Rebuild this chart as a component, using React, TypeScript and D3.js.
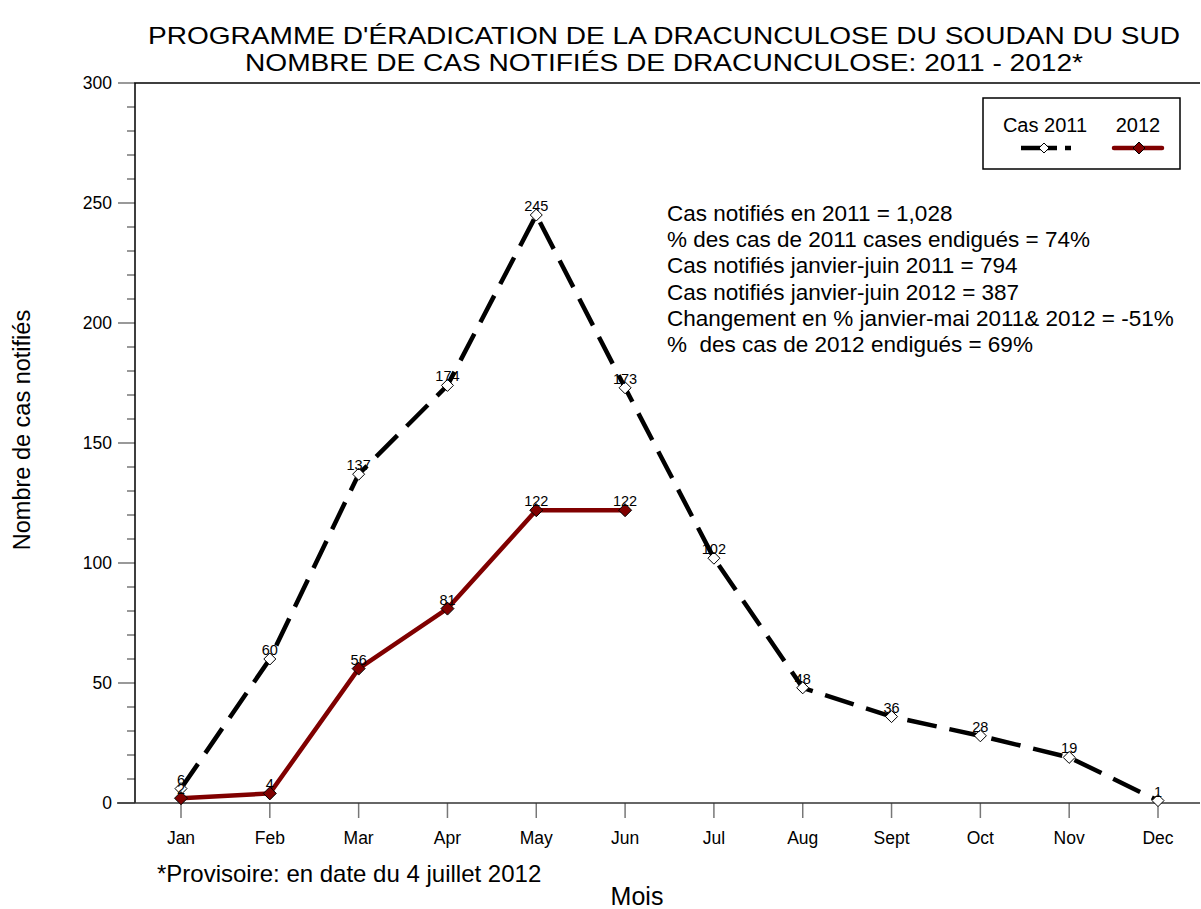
import React from 'react';
import * as d3 from 'd3';

const months = ['Jan', 'Feb', 'Mar', 'Apr', 'May', 'Jun', 'Jul', 'Aug', 'Sept', 'Oct', 'Nov', 'Dec'];
const cases2011 = [6, 60, 137, 174, 245, 173, 102, 48, 36, 28, 19, 1];
const cases2012 = [2, 4, 56, 81, 122, 122];
const yTicks = [0, 50, 100, 150, 200, 250, 300];
const titleLines = [
  "PROGRAMME D'ÉRADICATION DE LA DRACUNCULOSE DU SOUDAN DU SUD",
  'NOMBRE DE CAS NOTIFIÉS DE DRACUNCULOSE: 2011 - 2012*',
];
const notes = [
  'Cas notifiés en 2011 = 1,028',
  '% des cas de 2011 cases endigués = 74%',
  'Cas notifiés janvier-juin 2011 = 794',
  'Cas notifiés janvier-juin 2012 = 387',
  'Changement en % janvier-mai 2011& 2012 = -51%',
  '%  des cas de 2012 endigués = 69%',
];

const W = 1201;
const H = 909;
const left = 135;
const right = 1200;
const top = 83;
const bottom = 803;
const font = 'Liberation Sans, Arial, sans-serif';
const red = '#800000';

const diamond = (cx: number, cy: number, r: number) =>
  `M${cx},${cy - r}L${cx + r},${cy}L${cx},${cy + r}L${cx - r},${cy}Z`;

export default function App() {
  const x = d3.scalePoint<string>().domain(months).range([181, 1158]);
  const y = d3.scaleLinear().domain([0, 300]).range([bottom, top]);
  const minor = d3.range(0, 301, 10).filter((v) => v % 50 !== 0);

  const line = d3
    .line<number>()
    .x((_, i) => x(months[i])!)
    .y((d) => y(d));

  const titleWidths = [1032, 838];

  return (
    <svg width={W} height={H} style={{ position: 'absolute', left: 0, top: 0 }} fontFamily={font}>
      <rect width={W} height={H} fill="#fff" />
      {titleLines.map((t, i) => (
        <text
          key={i}
          textAnchor="middle"
          fontSize={24}
          x={664}
          y={44 + i * 27}
          textLength={titleWidths[i]}
          lengthAdjust="spacingAndGlyphs"
        >
          {t}
        </text>
      ))}

      {/* y axis ticks */}
      {yTicks.map((t) => (
        <g key={t}>
          <line x1={118} x2={left} y1={y(t)} y2={y(t)} stroke="#777" strokeWidth={1.5} />
          <text x={112} y={y(t) + 6} textAnchor="end" fontSize={17.5}>
            {t}
          </text>
        </g>
      ))}
      {minor.map((t) => (
        <line key={t} x1={127} x2={left} y1={y(t)} y2={y(t)} stroke="#555" strokeWidth={1.2} />
      ))}

      {/* x axis ticks */}
      {months.map((m) => (
        <g key={m}>
          <line x1={x(m)} x2={x(m)} y1={bottom} y2={818} stroke="#777" strokeWidth={1.5} />
          <text x={x(m)} y={844} textAnchor="middle" fontSize={17.5}>
            {m}
          </text>
        </g>
      ))}

      {/* frame */}
      <path
        d={`M${left},${bottom}L${left},${top}L${right},${top}`}
        fill="none"
        stroke="#000"
        strokeWidth={1.5}
      />
      <line x1={left - 18} x2={right} y1={bottom} y2={bottom} stroke="#333" strokeWidth={1.5} />

      {/* 2011 series */}
      <path
        d={line(cases2011)!}
        fill="none"
        stroke="#000"
        strokeWidth={4.5}
        strokeDasharray="30 13"
      />
      {cases2011.map((v, i) => (
        <g key={i}>
          <path d={diamond(x(months[i])!, y(v), 6)} fill="#fff" stroke="#000" strokeWidth={1} />
          <text x={x(months[i])!} y={y(v) - 4} textAnchor="middle" fontSize={14.5}>
            {v}
          </text>
        </g>
      ))}

      {/* 2012 series */}
      <path d={line(cases2012)!} fill="none" stroke={red} strokeWidth={4.5} />
      {cases2012.map((v, i) => (
        <g key={i}>
          <path d={diamond(x(months[i])!, y(v), 6.5)} fill={red} stroke="#000" strokeWidth={1} />
          <text x={x(months[i])!} y={y(v) - 4} textAnchor="middle" fontSize={14.5}>
            {v}
          </text>
        </g>
      ))}

      {/* notes */}
      {notes.map((n, i) => (
        <text key={i} x={667} y={221 + i * 26.2} fontSize={22.5} style={{ whiteSpace: 'pre' }}>
          {n}
        </text>
      ))}

      {/* legend */}
      <rect x={983} y={98} width={197} height={71} fill="#fff" stroke="#000" strokeWidth={1.5} />
      <text x={1045} y={132} textAnchor="middle" fontSize={20}>
        Cas 2011
      </text>
      <text x={1138} y={132} textAnchor="middle" fontSize={20}>
        2012
      </text>
      <path
        d="M1021,148L1057,148M1065,148L1071,148"
        stroke="#000"
        strokeWidth={4.5}
        fill="none"
      />
      <path d={diamond(1044, 148, 5)} fill="#fff" stroke="#000" strokeWidth={1} />
      <line x1={1114} x2={1162} y1={148} y2={148} stroke={red} strokeWidth={4.5} strokeLinecap="round" />
      <path d={diamond(1139, 148, 6)} fill={red} stroke="#000" strokeWidth={1} />

      {/* axis titles */}
      <text
        transform="translate(30,430) rotate(-90)"
        textAnchor="middle"
        fontSize={23.5}
      >
        Nombre de cas notifiés
      </text>
      <text x={637} y={905} textAnchor="middle" fontSize={25}>
        Mois
      </text>
      <text x={157} y={882} fontSize={24}>
        *Provisoire: en date du 4 juillet 2012
      </text>
    </svg>
  );
}
